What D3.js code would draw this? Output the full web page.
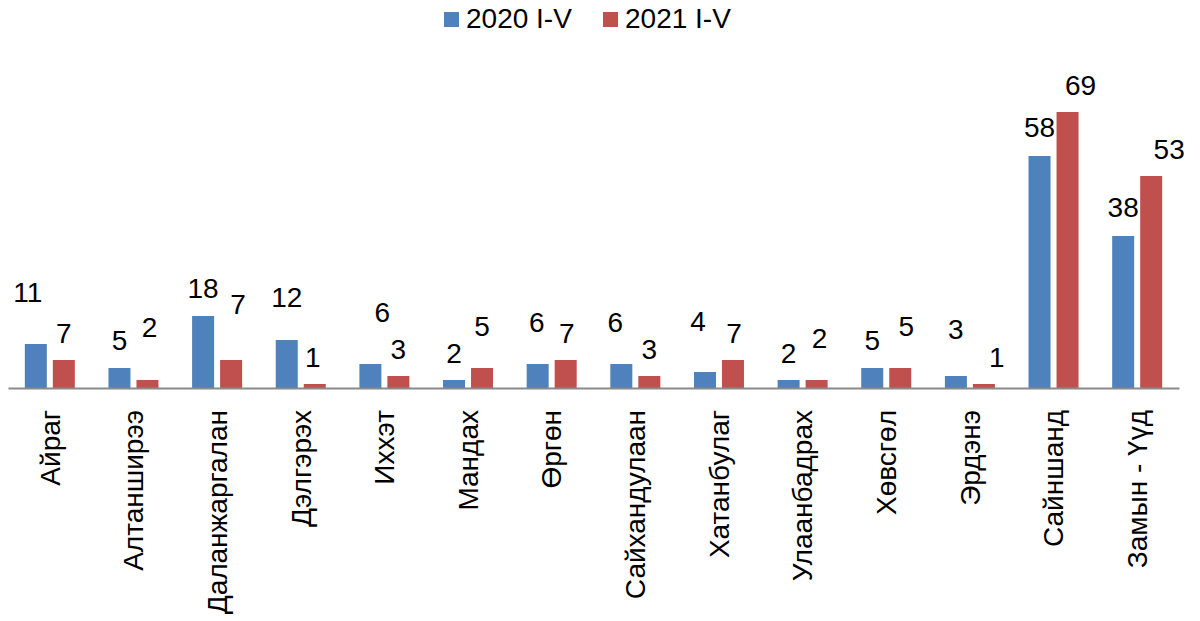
<!DOCTYPE html>
<html>
<head>
<meta charset="utf-8">
<script src="https://cdn.jsdelivr.net/npm/d3@7"></script>
<style>
  body { margin: 0; background: #fff; }
  svg { font-family: "Liberation Sans", Arial, sans-serif; }
</style>
</head>
<body>
<div id="chart"></div>
<script>
const categories = ['Айраг', 'Алтанширээ', 'Даланжаргалан', 'Дэлгэрэх', 'Иххэт', 'Мандах', 'Өргөн',
  'Сайхандулаан', 'Хатанбулаг', 'Улаанбадрах', 'Хөвсгөл', 'Эрдэнэ', 'Сайншанд', 'Замын - Үүд'];
const seriesNames = ['2020 I-V', '2021 I-V'];
const values2020 = [11, 5, 18, 12, 6, 2, 6, 6, 4, 2, 5, 3, 58, 38];
const values2021 = [7, 2, 7, 1, 3, 5, 7, 3, 7, 2, 5, 1, 69, 53];

// Label nudges (px), the original has hand-placed data labels.
const liftA = [42, 18, 18, 33, 42, 17, 32, 32, 41, 17, 18, 37, 19, 19];
const liftB = [17, 43, 46, 17, 17, 32, 17, 17, 17, 32, 32, 17, 17, 17];
const shiftA = [-8, 0, 0, 0, 12, 0, -1, -6, -7, 0, 0, 0, 0, 0];
const shiftB = [0, 2, 7, -2, 0, 0, 1, 0, 1, 3, 6, 13, 13, 18];

const colors = ['#4F81BD', '#C0504D'];
const width = 1200;
const height = 621;
const baseY = 388;
const fontSize = 28;

let svg = d3.select('#chart')
  .append('svg')
  .attr('width', width)
  .attr('height', height);

let x0 = d3.scaleBand().domain(categories).range([8, 1179]).padding(0);
let x1 = d3.scaleBand().domain(seriesNames)
  .range([x0.bandwidth() / 2 - 25, x0.bandwidth() / 2 + 25])
  .paddingInner(0.2143);
let y = d3.scaleLinear().domain([0, 70]).range([baseY, baseY - 280]);

let series = [
  { name: seriesNames[0], values: values2020, lift: liftA, shift: shiftA, color: colors[0] },
  { name: seriesNames[1], values: values2021, lift: liftB, shift: shiftB, color: colors[1] }
];

// Bars.
for (let s of series) {
  svg.append('g')
    .selectAll('rect')
    .data(categories)
    .enter()
    .append('rect')
      .attr('x', d => x0(d) + x1(s.name))
      .attr('y', (d, i) => y(s.values[i]))
      .attr('width', x1.bandwidth())
      .attr('height', (d, i) => baseY - y(s.values[i]))
      .attr('fill', s.color);
}

// Data labels.
for (let s of series) {
  svg.append('g')
    .selectAll('text')
    .data(categories)
    .enter()
    .append('text')
      .attr('x', (d, i) => x0(d) + x1(s.name) + x1.bandwidth() / 2 + s.shift[i])
      .attr('y', (d, i) => y(s.values[i]) - s.lift[i])
      .attr('text-anchor', 'middle')
      .attr('font-size', fontSize)
      .attr('fill', '#000')
      .text((d, i) => s.values[i]);
}

// Category axis.
let xAxis = d3.axisBottom(x0).tickSize(0).tickSizeOuter(0);
let axis = svg.append('g')
  .attr('transform', `translate(0,${baseY})`)
  .call(xAxis);
axis.attr('font-family', null).attr('font-size', null);
axis.select('.domain').attr('stroke', '#8a8a8a').attr('stroke-width', 1.8);
axis.selectAll('text')
  .attr('transform', 'rotate(-90)')
  .attr('text-anchor', 'end')
  .attr('x', -22)
  .attr('y', 0)
  .attr('dy', '0.35em')
  .attr('font-size', fontSize)
  .attr('fill', '#000');

// Legend.
let legendX = [444, 603];
let legend = svg.append('g')
  .selectAll('g')
  .data(series)
  .enter()
  .append('g')
    .attr('transform', (d, i) => `translate(${legendX[i]},12)`);
legend.append('rect')
  .attr('width', 15)
  .attr('height', 15)
  .attr('fill', d => d.color);
legend.append('text')
  .attr('x', 22)
  .attr('y', 16)
  .attr('font-size', fontSize)
  .attr('fill', '#000')
  .text(d => d.name);
</script>
</body>
</html>
